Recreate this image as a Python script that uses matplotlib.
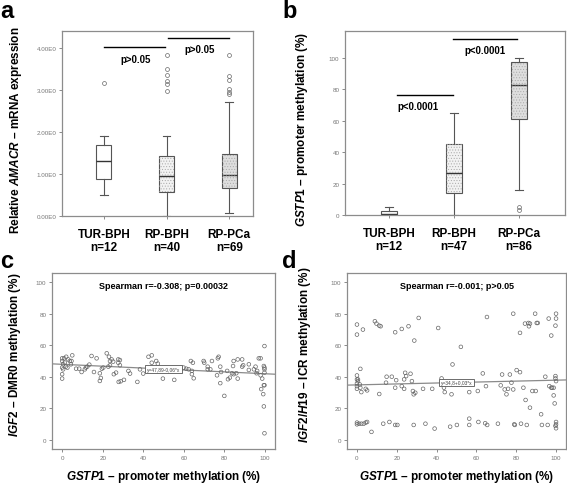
import numpy as np
import matplotlib
matplotlib.use("Agg")
import matplotlib.pyplot as plt
from matplotlib.patches import PathPatch

plt.rcParams["font.family"] = ["Liberation Sans", "DejaVu Sans"]
plt.rcParams["mathtext.fontset"] = "custom"
plt.rcParams["mathtext.it"] = "Liberation Sans:italic:bold"
plt.rcParams["mathtext.rm"] = "Liberation Sans:bold"
plt.rcParams["mathtext.bf"] = "Liberation Sans:bold"

# ---- data ----
groups = ["TUR-BPH", "RP-BPH", "RP-PCa"]

# panel a: AMACR expression
amacr_n = [12, 40, 69]
amacr_whislo = [0.49, 0.0, 0.07]
amacr_q1 = [0.88, 0.58, 0.66]
amacr_med = [1.30, 0.96, 0.97]
amacr_q3 = [1.70, 1.42, 1.48]
amacr_whishi = [1.91, 1.90, 2.71]
amacr_fliers = [[3.16],
                [2.97, 3.15, 3.20, 3.35, 3.49, 3.82],
                [2.91, 2.95, 3.01, 3.23, 3.33, 3.82]]
amacr_ticks = [0, 1, 2, 3, 4]
amacr_ticklabels = ["0.00E0", "1.00E0", "2.00E0", "3.00E0", "4.00E0"]
amacr_sig = ["p>0.05", "p>0.05"]

# panel b: GSTP1 methylation
gstp_n = [12, 47, 86]
gstp_whislo = [0.0, 0.0, 15.9]
gstp_q1 = [0.3, 13.8, 61.0]
gstp_med = [0.6, 26.8, 82.6]
gstp_q3 = [2.5, 45.0, 97.2]
gstp_whishi = [4.9, 65.0, 99.8]
gstp_fliers = [[], [], [3.4, 4.9]]
gstp_ticks = [0, 20, 40, 60, 80, 100]
gstp_sig = ["p<0.0001", "p<0.0001"]

# panel c: GSTP1 vs IGF2 DMR0
c_x = [0, 0, 0.5, 0, 0, 0, 1, 1.3, 1.8, 2, 3, 3.8, 4.3, 5, 4.6, 2.6, 0.5,
       6.9, 8.4, 9.6, 11.2, 11.7, 12.4, 13.4, 14.5, 17, 15.7, 18.6, 19.1, 18.6,
       19.6, 20.3, 22, 23.1, 23.6, 24.4, 22.8, 23.6, 25.2, 25.5, 26.6, 27.7,
       28.5, 27.7, 28.5, 27.9, 28.9, 30.5, 32.7, 33.5, 37.1, 38.4, 40, 42.6,
       44.2, 44.2, 46.4, 47.2, 49.7, 55.3, 59.9, 61.2, 62.4, 63.5, 64.5, 64,
       64, 64.9, 69.8, 70.1, 71.8, 71.8, 73.1, 73.9, 76.8, 77.2, 78, 76.4,
       78.4, 78, 80, 81.4, 81.8, 82.7, 83.8, 84.6, 84.3, 84.6, 86.6, 88.8,
       88.8, 89.3, 86.6, 85.9, 92.1, 92.1, 94.6, 95.4, 96.2, 97, 97.9, 97.9,
       98.7, 98.2, 99.2, 99.5, 99.8, 99.8, 99.8, 99.5, 99.8, 99.8, 99.5, 99.8,
       95.9]
c_y = [51.7, 50, 47.9, 45.8, 41.6, 38.8, 51.7, 49, 46.4, 52.7, 51, 50, 47.9,
       53.6, 50, 45.8, 44.7,
       45.1, 45.1, 43, 44.7, 45.8, 46.4, 47.7, 53.2, 51.7, 43, 42.2, 39.2, 37.3,
       45.1, 45.8, 54.9, 52.7, 50, 51, 46.4, 47.3, 49.6, 41.6, 42.6, 51,
       50.6, 48.9, 47.3, 36.7, 37.1, 38, 43.7, 42, 36.7, 44.7, 42, 52.7,
       53.6, 48.9, 50, 48.3, 38.8, 38, 45.8, 45.1, 44.7, 50, 48.9, 43.7,
       41.6, 39, 50, 48.9, 46.4, 44.7, 44.7, 50, 51.7, 52.7, 46.4, 40.9,
       43, 35.9, 27.8, 43.7, 38.4, 39.4, 42.2, 41.6, 46.8, 50, 51, 51,
       46.4, 47.3, 38.8, 42.2, 47.9, 44.3, 44.7, 46.4, 43.7, 51.7, 51.7, 40.9,
       38.8, 32.1, 28.9, 34.6, 34.6, 59.5, 44.7, 46.8, 45.8, 42.6, 21.1, 4,
       42.2]
c_fit = (47.89, -0.06)
c_text = "Spearman r=-0.308; p=0.00032"
c_fit_label = "y=47,89-0,06*x"

# panel d: GSTP1 vs IGF2/H19 ICR
d_x = [0, 0, 3, 9, 9.8, 11.2, 11.9, 19.2, 22.5, 25.9, 31, 28.8, 40.8, 52.2,
       65.3, 78.5, 81.9, 84.4, 86.1, 86.4, 86.9, 89.5, 90.3, 90.8, 96.3, 97.6,
       100, 100, 99.7,
       0, 0, 0.5, 0, 0, 0, 0.5, 1.7, 1.4, 1.7, 2.2, 4.4, 5.1, 11.2, 14.6, 14.9,
       17.5, 19.2, 19.7, 22.5, 23.7, 24.2, 24.7, 23.7, 26.9, 27.6, 28.1, 28.5,
       29.3, 33.2, 37.8, 42.5, 43.7, 44.1, 47.5, 48, 56.4, 60.7, 63.2, 64.8,
       72.2, 72.9, 74.2, 75.1, 76.8, 77.6, 75.9, 78.5, 80.2, 81.9, 83.6, 84.7,
       86.9, 88.1, 89.8, 94.6, 96.6, 97.6, 98, 98.8, 99.7, 99.7, 100, 98.8,
       99.3, 92.5,
       0, 0, 1, 2.2, 3.4, 4.4, 5.1, 7.3, 13.2, 16.3, 19.2, 20.3, 28.5, 34.4,
       39, 46.8, 50.2, 56.4, 56.4, 61, 64.4, 65.4, 70.8, 79, 79.3, 82.4, 85.3,
       92.9, 95.8, 100, 100, 99.7, 100]
d_y = [73.2, 66.8, 70, 75.3, 73.8, 72.5, 72.1, 68.3, 70.4, 72.1, 77.4, 63,
       71, 59, 78, 80.1, 67.9, 73.8, 74.2, 72.1, 73.8, 80.1, 74.2, 74.2, 77,
       66.2, 80.1, 77, 72.5,
       40.8, 38.3, 38.3, 35.7, 34, 32.3, 37.2, 45, 35.1, 33, 30.2, 32.3, 31.3,
       29, 36.2, 40, 40, 33, 37.8, 34, 38.3, 42.5, 40.4, 32.3, 41.9, 37.2,
       30.9, 28.8, 29.8, 32.3, 32.3, 38.9, 33, 30.2, 28.8, 47.8, 30.2, 30.9,
       42.1, 34, 34.5, 41.4, 31.9, 28.8, 41.4, 36.2, 32.3, 31.9, 44.2, 42.9,
       33, 25.2, 20.3, 30.9, 30.9, 40, 34, 33, 33, 33, 40.4, 38.9, 37.2,
       28.1, 23, 16.1,
       10.8, 9.7, 10.1, 10.1, 10.1, 10.8, 11.2, 4.9, 10.1, 11.2, 9.3, 9.3,
       9.3, 10.1, 7, 8.2, 9.3, 13.3, 9.3, 11.2, 10.4, 9.3, 10.1, 9.7, 9.3,
       10.1, 9.3, 9.3, 9.3, 11.2, 9.7, 8.7, 7.2]
d_fit = (34.8, 0.03)
d_text = "Spearman r=-0.001; p>0.05"
d_fit_label = "y=34,8+0,03*x"

xy_ticks = [0, 20, 40, 60, 80, 100]

# ---- figure ----
W, H = 567, 485
fig = plt.figure(figsize=(W / 100, H / 100), dpi=100)


def px_axes(left, top, right, bottom):
    return fig.add_axes([left / W, 1 - bottom / H, (right - left) / W, (bottom - top) / H])


SPINE = "#8c8c8c"
TICKC = "#777777"


def style(ax):
    for s in ax.spines.values():
        s.set_color(SPINE)
        s.set_linewidth(0.9)
    ax.tick_params(length=2.5, width=0.6, color=TICKC, labelcolor=TICKC,
                   labelsize=4.5, pad=1.5)


def boxes(ax, whislo, q1, med, q3, whishi, fliers, fills, hatches):
    stats = [dict(whislo=a, q1=b, med=c, q3=d, whishi=e, fliers=f)
             for a, b, c, d, e, f in zip(whislo, q1, med, q3, whishi, fliers)]
    bp = ax.bxp(stats, positions=[1, 2, 3], widths=0.24, capwidths=0.12,
                patch_artist=True,
                boxprops=dict(edgecolor="#555555", linewidth=0.8),
                whiskerprops=dict(color="#555555", linewidth=0.8),
                capprops=dict(color="#555555", linewidth=0.8),
                medianprops=dict(color="#333333", linewidth=1.0),
                flierprops=dict(marker="o", markersize=2.8, markerfacecolor="none",
                                markeredgecolor="#666666", markeredgewidth=0.5))
    for b, fc, h in zip(bp["boxes"], fills, hatches):
        b.set_facecolor(fc)
        if h:
            ax.add_patch(PathPatch(b.get_path(), transform=b.get_transform(),
                                   fill=False, edgecolor="#a8a8a8", linewidth=0,
                                   hatch=h, zorder=b.get_zorder() + 0.1))
    return bp


plt.rcParams["hatch.linewidth"] = 0.4
fills = ["white", "#f2f2f2", "#dedede"]
hatches = [None, "......", "......"]

# panel a
ax = px_axes(62, 32, 253, 217)
style(ax)
boxes(ax, amacr_whislo, amacr_q1, amacr_med, amacr_q3, amacr_whishi, amacr_fliers, fills, hatches)
ax.set_xlim(0.33, 3.38)
ax.set_ylim(0, 4.4)
ax.set_yticks(amacr_ticks)
ax.set_yticklabels(amacr_ticklabels)
ax.set_xticks([1, 2, 3])
ax.set_xticklabels([f"{g}\nn={n}" for g, n in zip(groups, amacr_n)],
                   fontsize=8.5, fontweight="bold", color="black", linespacing=1.1)
ax.tick_params(axis="x", pad=6)
ax.plot([1.0, 1.98], [4.02, 4.02], color="black", lw=1.0)
ax.plot([2.02, 3.0], [4.24, 4.24], color="black", lw=1.0)
ax.text(1.5, 3.74, amacr_sig[0], ha="center", va="center", fontsize=7, fontweight="bold")
ax.text(2.52, 3.98, amacr_sig[1], ha="center", va="center", fontsize=7, fontweight="bold")
ax.set_ylabel(r"Relative $\mathit{AMACR}$ – mRNA expression", fontsize=8.5,
              fontweight="bold")
ax.yaxis.set_label_coords(-0.2, 0.47)

# panel b
ax = px_axes(345, 32, 565, 216)
style(ax)
boxes(ax, gstp_whislo, gstp_q1, gstp_med, gstp_q3, gstp_whishi, gstp_fliers, fills, hatches)
ax.set_xlim(0.32, 3.71)
ax.set_ylim(0, 117)
ax.set_yticks(gstp_ticks)
ax.set_xticks([1, 2, 3])
ax.set_xticklabels([f"{g}\nn={n}" for g, n in zip(groups, gstp_n)],
                   fontsize=8.5, fontweight="bold", color="black", linespacing=1.1)
ax.tick_params(axis="x", pad=6)
ax.plot([1.12, 1.98], [76.4, 76.4], color="black", lw=1.0)
ax.plot([1.98, 2.97], [112, 112], color="black", lw=1.0)
ax.text(1.45, 69.4, gstp_sig[0], ha="center", va="center", fontsize=7, fontweight="bold")
ax.text(2.48, 105, gstp_sig[1], ha="center", va="center", fontsize=7, fontweight="bold")
ax.set_ylabel(r"$\mathit{GSTP1}$ – promoter methylation (%)", fontsize=8.5,
              fontweight="bold")
ax.yaxis.set_label_coords(-0.16, 0.47)


def scatter_panel(ax, x, y, fit, text, fit_label, ylabel, label_x):
    style(ax)
    ax.scatter(x, y, s=7, facecolors="none", edgecolors="#666666", linewidths=0.5,
               zorder=3)
    xs = np.array([-5, 105])
    ax.plot(xs, fit[0] + fit[1] * xs, color="#8a8a8a", lw=0.9, zorder=2)
    ax.text(50, fit[0] + fit[1] * 50, fit_label, ha="center", va="center",
            fontsize=3.5, color="#444444", zorder=4,
            bbox=dict(boxstyle="square,pad=0.3", facecolor="white",
                      edgecolor="#555555", linewidth=0.6))
    ax.set_xlim(-5, 105)
    ax.set_ylim(-6, 106)
    ax.set_xticks(xy_ticks)
    ax.set_yticks(xy_ticks)
    ax.text(0.5, 0.93, text, transform=ax.transAxes, ha="center", va="center",
            fontsize=6.5, fontweight="bold")
    ax.set_xlabel(r"$\mathit{GSTP1}$ – promoter methylation (%)", fontsize=8.5,
                  fontweight="bold", va="center")
    ax.xaxis.set_label_coords(0.5, -0.155)
    ax.set_ylabel(ylabel, fontsize=8.5, fontweight="bold")
    ax.yaxis.set_label_coords(label_x, 0.54)


ax = px_axes(52, 274, 275, 450)
scatter_panel(ax, c_x, c_y, c_fit, c_text, c_fit_label,
              r"$\mathit{IGF2}$ – DMR0 methylation (%)", -0.13)
ax = px_axes(347, 274, 566, 450)
scatter_panel(ax, d_x, d_y, d_fit, d_text, d_fit_label,
              r"$\mathit{IGF2/H19}$ – ICR methylation (%)", -0.155)

for lab, x, y in [("a", 0, 0), ("b", 282, 0), ("c", 0, 250), ("d", 282, 250)]:
    fig.text(x / W, 1 - y / H, lab, fontsize=17, fontweight="bold", va="top", ha="left")

fig.savefig("out.png", dpi=100)
